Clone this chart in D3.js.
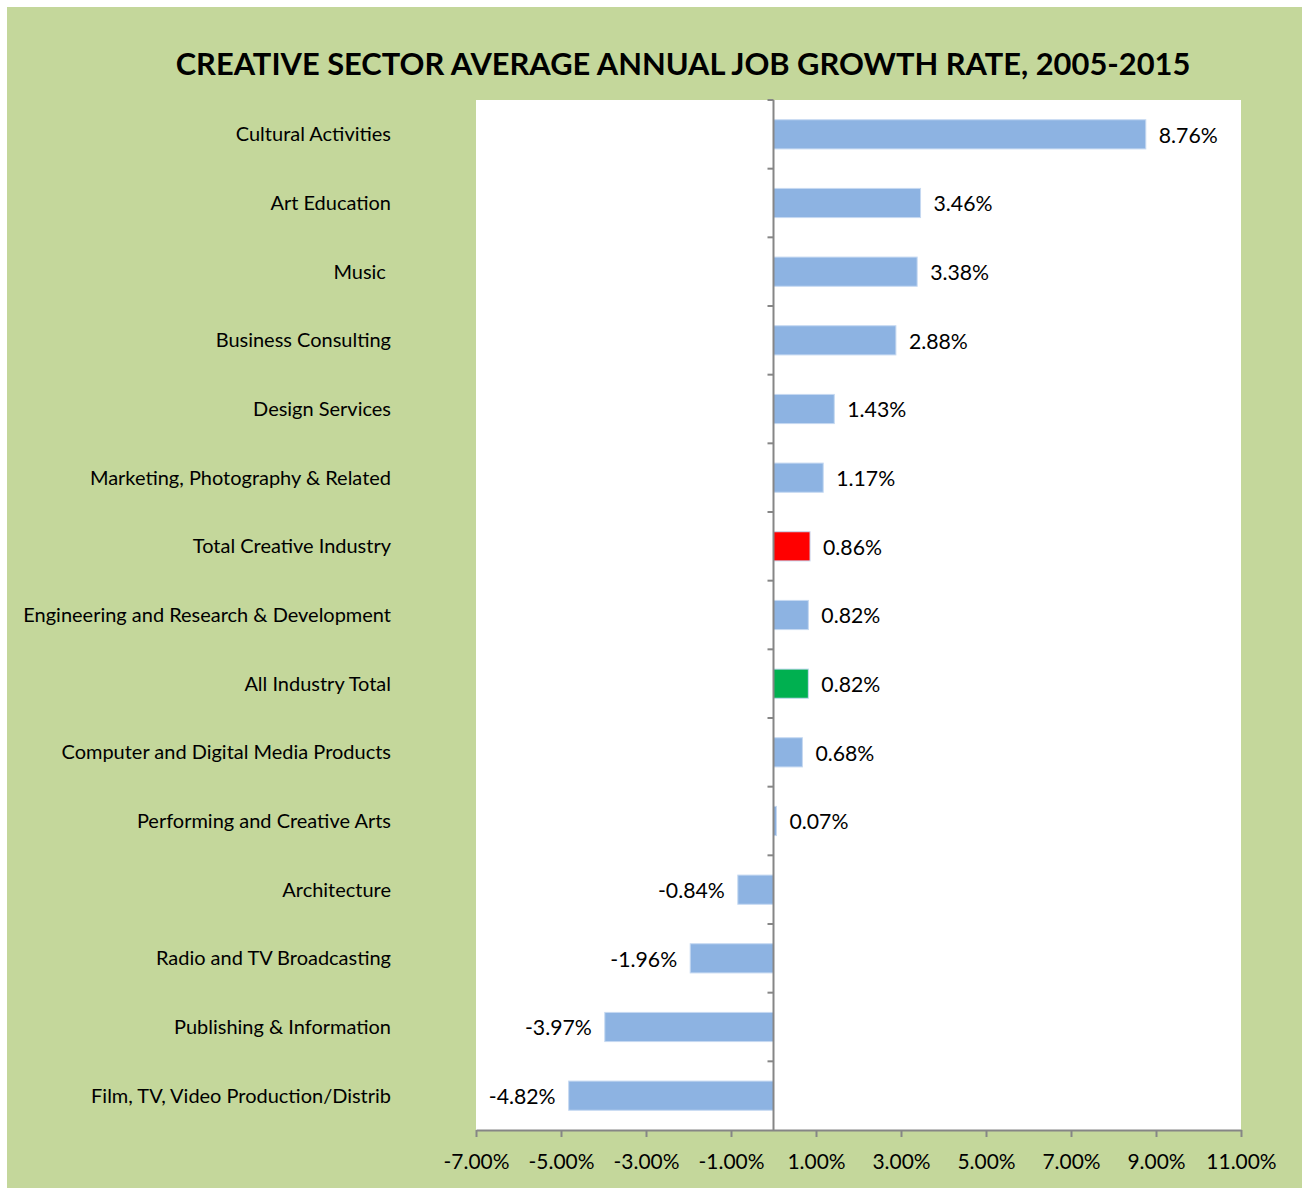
<!DOCTYPE html>
<html>
<head>
<meta charset="utf-8">
<script src="https://cdn.jsdelivr.net/npm/d3@7"></script>
<style>
  html, body { margin: 0; padding: 0; background: #ffffff; }
  svg { display: block; }
  text { font-family: Lato, "Noto Sans", sans-serif; fill: #000; }
</style>
</head>
<body>
<svg id="chart" width="1302" height="1188"></svg>
<script>
// Sector names, top to bottom
const categories = [
  "Cultural Activities",
  "Art Education",
  "Music ",
  "Business Consulting",
  "Design Services",
  "Marketing, Photography & Related",
  "Total Creative Industry",
  "Engineering and Research & Development",
  "All Industry Total",
  "Computer and Digital Media Products",
  "Performing and Creative Arts",
  "Architecture",
  "Radio and TV Broadcasting",
  "Publishing & Information",
  "Film, TV, Video Production/Distrib"
];

// Average annual job growth rate, 2005-2015 (percent)
const growthRates = [8.76, 3.46, 3.38, 2.88, 1.43, 1.17, 0.86, 0.82, 0.82, 0.68, 0.07, -0.84, -1.96, -3.97, -4.82];

// Highlighted aggregate rows
const highlightTotal = "Total Creative Industry";
const highlightAll = "All Industry Total";

// X axis tick values (percent)
const xTicks = [-7, -5, -3, -1, 1, 3, 5, 7, 9, 11];

const titleText = "CREATIVE SECTOR AVERAGE ANNUAL JOB GROWTH RATE, 2005-2015";

const svg = d3.select("#chart");
const W = 1302, H = 1188;
const plot = { left: 476, right: 1241, top: 100, bottom: 1130 };

// chart background
svg.append("rect")
  .attr("x", 7).attr("y", 7)
  .attr("width", W - 7).attr("height", H - 7)
  .attr("fill", "#c4d79b");

// plot area
svg.append("rect")
  .attr("x", plot.left).attr("y", plot.top)
  .attr("width", plot.right - plot.left).attr("height", plot.bottom - plot.top)
  .attr("fill", "#ffffff");

const x = d3.scaleLinear().domain([-7, 11]).range([plot.left, plot.right]);
const y = d3.scaleBand().domain(categories).range([plot.top, plot.bottom]).paddingInner(0.575).paddingOuter(0.2875);

const rows = categories.map((c, i) => ({ name: c, value: growthRates[i] }));

// Plain hyphen for negative numbers
const pct = v => d3.format(".2f")(v).replace("\u2212", "-") + "%";

// Fit a font size so that a reference string reaches a target width
function fitFont(refText, targetWidth, baseSize, weight) {
  const probe = svg.append("text").attr("font-size", baseSize)
    .attr("font-weight", weight || null).text(refText);
  const w = probe.node().getComputedTextLength();
  probe.remove();
  return baseSize * targetWidth / w;
}

// title
svg.append("text")
  .attr("x", 683).attr("y", 75)
  .attr("text-anchor", "middle")
  .attr("font-weight", "bold")
  .attr("font-size", fitFont(titleText, 1015, 30, "bold"))
  .text(titleText);

// bars
svg.append("g").selectAll("rect")
  .data(rows)
  .join("rect")
  .attr("x", d => x(Math.min(0, d.value)))
  .attr("y", d => y(d.name))
  .attr("width", d => Math.abs(x(d.value) - x(0)))
  .attr("height", y.bandwidth())
  .attr("fill", d => d.name === highlightTotal ? "#ff0000" : d.name === highlightAll ? "#00b050" : "#8db3e2")
  .attr("stroke", "#c6d9f1")
  .attr("stroke-width", 1);

// category axis line at zero with ticks at band boundaries
const catAxis = svg.append("g");
catAxis.append("line")
  .attr("x1", x(0)).attr("x2", x(0))
  .attr("y1", plot.top).attr("y2", plot.bottom)
  .attr("stroke", "#868686").attr("stroke-width", 2);
const step = y.step();
catAxis.selectAll("line.tick")
  .data(d3.range(categories.length))
  .join("line")
  .attr("class", "tick")
  .attr("x1", x(0) - 6).attr("x2", x(0))
  .attr("y1", i => plot.top + i * step).attr("y2", i => plot.top + i * step)
  .attr("stroke", "#868686").attr("stroke-width", 2);

// category labels
const labelSize = fitFont("Engineering and Research & Development", 368, 20);
svg.append("g").selectAll("text")
  .data(rows)
  .join("text")
  .attr("x", 391)
  .attr("y", d => y(d.name) + y.bandwidth() / 2)
  .attr("dy", "0.35em")
  .attr("text-anchor", "end")
  .attr("font-size", labelSize)
  .style("white-space", "pre")
  .text(d => d.name);

// value labels
const valueSize = fitFont("8.76%", 59, 20);
svg.append("g").selectAll("text")
  .data(rows)
  .join("text")
  .attr("x", d => d.value >= 0 ? x(d.value) + 13 : x(d.value) - 13)
  .attr("y", d => y(d.name) + y.bandwidth() / 2 + 1)
  .attr("dy", "0.35em")
  .attr("text-anchor", d => d.value >= 0 ? "start" : "end")
  .attr("font-size", valueSize)
  .text(d => pct(d.value));

// x axis
const xAxis = d3.axisBottom(x)
  .tickValues(xTicks)
  .tickSize(7)
  .tickSizeOuter(0)
  .tickFormat(pct);
const gx = svg.append("g")
  .attr("transform", `translate(0,${plot.bottom})`)
  .call(xAxis);
gx.select(".domain").attr("stroke", "#868686").attr("stroke-width", 2);
gx.selectAll(".tick line").attr("stroke", "#868686").attr("stroke-width", 2);
gx.selectAll(".tick text")
  .attr("y", 24)
  .attr("dy", "0.71em")
  .attr("font-family", "Lato, 'Noto Sans', sans-serif")
  .attr("font-size", fitFont("-7.00%", 66, 20))
  .attr("fill", "#000");
</script>
</body>
</html>
